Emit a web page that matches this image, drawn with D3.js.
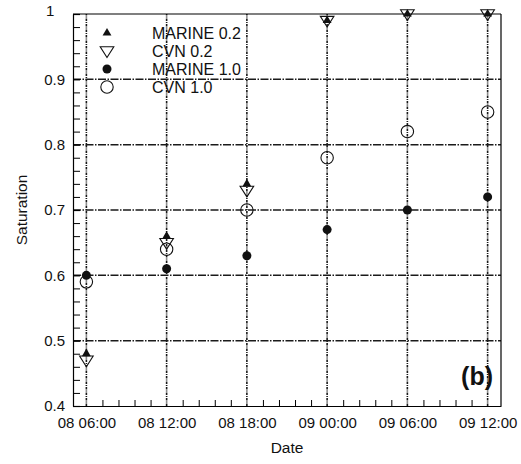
<!DOCTYPE html>
<html>
<head>
<meta charset="utf-8">
<script src="https://cdn.jsdelivr.net/npm/d3@7"></script>
<style>
  body { margin: 0; background: #fff; }
  svg { display: block; font-family: Arial, "Liberation Sans", sans-serif; }
</style>
</head>
<body>
<svg id="chart" width="521" height="464"></svg>
<script>
// Sampling times (day 08 and 09, every 6 hours)
const times = ["08 06:00", "08 12:00", "08 18:00", "09 00:00", "09 06:00", "09 12:00"];

// Saturation series
const marine02 = [0.48, 0.66, 0.74, 0.99, 1.00, 1.00];
const cvn02    = [0.47, 0.65, 0.73, 0.99, 1.00, 1.00];
const marine10 = [0.60, 0.61, 0.63, 0.67, 0.70, 0.72];
const cvn10    = [0.59, 0.64, 0.70, 0.78, 0.82, 0.85];

const seriesNames = ["MARINE 0.2", "CVN 0.2", "MARINE 1.0", "CVN 1.0"];
const yTicks = [0.4, 0.5, 0.6, 0.7, 0.8, 0.9, 1];
const yGrid = [0.5, 0.6, 0.7, 0.8, 0.9];

const parse = d3.utcParse("%Y-%m-%d %H:%M");
const toDate = t => parse("2000-01-" + t);
const dates = times.map(toDate);

const margin = { left: 73, right: 20, top: 14, bottom: 58 };
const W = 521, H = 464;
const svg = d3.select("#chart");

const x = d3.scaleUtc()
  .domain([toDate("08 05:00"), toDate("09 13:00")])
  .range([margin.left, W - margin.right]);
const y = d3.scaleLinear()
  .domain([0.4, 1])
  .range([H - margin.bottom, margin.top]);

const x0 = x.range()[0], x1 = x.range()[1];
const y0 = y.range()[0], y1 = y.range()[1];

// Grid lines
const grid = svg.append("g");
grid.selectAll("line.h").data(yGrid).join("line")
  .attr("x1", x0).attr("x2", x1)
  .attr("y1", d => y(d)).attr("y2", d => y(d))
  .attr("stroke", "#1a1a1a").attr("stroke-width", 1.5)
  .attr("stroke-dasharray", "8,1.5,1.5,1.5");
grid.selectAll("line.v").data(dates).join("line")
  .attr("x1", d => x(d)).attr("x2", d => x(d))
  .attr("y1", y0).attr("y2", y1)
  .attr("stroke", "#1a1a1a").attr("stroke-width", 1.6)
  .attr("stroke-dasharray", "2.5,1,1,1");

// Minor x ticks: five intervals per six-hour step
const minor = [];
dates.forEach(d => {
  for (let k = 1; k < 5; k++) minor.push(new Date(+d + k * 72 * 60000));
});
const minorIn = minor.filter(d => x(d) < x1);

const fmt = d3.utcFormat("%d %H:%M");

// Bottom axis (ticks pointing inward)
const xAxis = svg.append("g").attr("transform", `translate(0,${y0})`)
  .call(d3.axisBottom(x).tickValues(dates).tickFormat(fmt).tickSizeInner(0).tickSizeOuter(0).tickPadding(11));
xAxis.select(".domain").attr("stroke", "#000").attr("stroke-width", 1.2);
xAxis.selectAll("text").attr("font-size", 15).attr("fill", "#111");
svg.append("g").attr("transform", `translate(0,${y0})`)
  .call(d3.axisBottom(x).tickValues(minorIn).tickFormat("").tickSizeInner(-6).tickSizeOuter(0))
  .call(g => g.select(".domain").remove())
  .selectAll("line").attr("stroke", "#000").attr("stroke-width", 1);

// Left axis with major and minor inward ticks
const yMinor = d3.range(0.42, 1.0, 0.02).filter(v => Math.abs(v * 10 - Math.round(v * 10)) > 0.01);
svg.append("g").attr("transform", `translate(${x0},0)`)
  .call(d3.axisLeft(y).tickValues(yMinor).tickFormat("").tickSizeInner(-7).tickSizeOuter(0))
  .call(g => g.select(".domain").remove())
  .selectAll("line").attr("stroke", "#000").attr("stroke-width", 1);
const yAxis = svg.append("g").attr("transform", `translate(${x0},0)`)
  .call(d3.axisLeft(y).tickValues(yTicks).tickFormat(d => d === 1 ? "1" : d3.format(".1f")(d))
    .tickSizeInner(-7).tickSizeOuter(0).tickPadding(8));
yAxis.select(".domain").attr("stroke", "#000").attr("stroke-width", 1.2);
yAxis.selectAll("line").attr("stroke", "#000").attr("stroke-width", 1.2);
yAxis.selectAll("text").attr("font-size", 15).attr("fill", "#111")
  .filter(d => d === 1).attr("text-anchor", "start").attr("x", -27).attr("dy", "0.1em");

// Top and right frame
svg.append("line").attr("x1", x0).attr("x2", x1).attr("y1", y1).attr("y2", y1)
  .attr("stroke", "#000").attr("stroke-width", 1.2);
svg.append("line").attr("x1", x1).attr("x2", x1).attr("y1", y1).attr("y2", y0)
  .attr("stroke", "#000").attr("stroke-width", 1.2);

// Axis titles
svg.append("text").attr("x", (x0 + x1) / 2).attr("y", 453).attr("text-anchor", "middle")
  .attr("font-size", 15.5).attr("fill", "#111").text("Date");
svg.append("text").attr("transform", `translate(27,${(y0 + y1) / 2}) rotate(-90)`)
  .attr("text-anchor", "middle").attr("font-size", 15.5).attr("fill", "#111").text("Saturation");

// Marker shapes
const upTri = d3.symbol().type(d3.symbolTriangle).size(34);
const downTri = "M-6.8,-4.2L6.8,-4.2L0,6.5Z";

const markers = [
  { name: seriesNames[0], vals: marine02, draw: sel => sel.append("path").attr("d", upTri()).attr("fill", "#111") },
  { name: seriesNames[1], vals: cvn02, draw: sel => sel.append("path").attr("d", downTri).attr("fill", "none").attr("stroke", "#111").attr("stroke-width", 1.1) },
  { name: seriesNames[2], vals: marine10, draw: sel => sel.append("circle").attr("r", 4.5).attr("fill", "#111") },
  { name: seriesNames[3], vals: cvn10, draw: sel => sel.append("circle").attr("r", 6.2).attr("fill", "none").attr("stroke", "#111").attr("stroke-width", 1.1) }
];

// Draw order: open markers underneath filled ones
[3, 1, 2, 0].forEach(i => {
  const m = markers[i];
  svg.append("g").selectAll("g").data(m.vals).join("g")
    .attr("transform", (v, j) => `translate(${x(dates[j])},${y(v)})`)
    .each(function () { m.draw(d3.select(this)); });
});

// Legend
const legend = svg.append("g");
markers.forEach((m, i) => {
  const ly = 33 + i * 18;
  const g = legend.append("g").attr("transform", `translate(107,${ly})`);
  m.draw(g);
  legend.append("text").attr("x", 152).attr("y", ly + 5.5).attr("font-size", 16)
    .attr("fill", "#111").text(m.name);
});

// Panel label
svg.append("text").attr("x", 493).attr("y", 385).attr("text-anchor", "end")
  .attr("font-size", 25).attr("font-weight", "bold").attr("fill", "#111").text("(b)");
</script>
</body>
</html>
